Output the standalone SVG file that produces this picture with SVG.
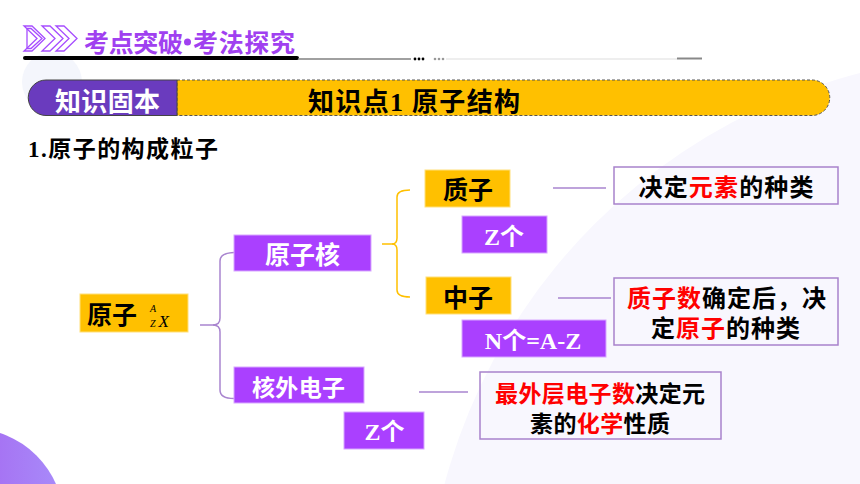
<svg xmlns="http://www.w3.org/2000/svg" width="860" height="484" viewBox="0 0 860 484">
<defs>
<linearGradient id="gCorner" x1="0" y1="0" x2="1" y2="0">
<stop offset="0" stop-color="#A247E6"/>
<stop offset="1" stop-color="#A88CFA"/>
</linearGradient>
<style>
.cjk{font-family:"Noto Sans CJK SC","Noto Sans",sans-serif;font-weight:bold;}
.ser{font-family:"Liberation Serif","Noto Sans CJK SC",serif;font-weight:bold;}
.ybox{fill:#FFC000;stroke:#FFE07A;stroke-width:1;}
.pbox{fill:#AA40FF;stroke:#D8A8FF;stroke-width:1;}
.abox{fill:none;stroke:#A882CC;stroke-width:1.5;}
.wt{fill:#FFFFFF;}
.bk{fill:#000000;}
.red{fill:#FF0000;}
.pl{fill:none;stroke:#A985CF;stroke-width:1.5;}
.yl{fill:none;stroke:#FFC000;stroke-width:1.5;}
.chev{fill:none;stroke:#A64DFF;stroke-width:1.3;}
</style>
</defs>

<!-- background -->
<rect x="0" y="0" width="860" height="484" fill="#FFFFFF"/>
<circle cx="1003" cy="633" r="578" fill="#F8F7FE"/>
<circle cx="52" cy="82" r="30" fill="#F4F6FC"/>
<circle cx="-30" cy="522" r="94" fill="url(#gCorner)"/>

<!-- header -->
<g id="header">
<polygon class="chev" points="24,26 32,26 45,38.5 32,51 24,51 37,38.5"/>
<polygon class="chev" points="27,28.5 31,28.5 42,38.5 31,48.5 27,48.5"/>
<polygon class="chev" points="42,26 50,26 63,38.5 50,51 42,51 55,38.5"/>
<polygon class="chev" points="56,26 64,26 77,38.5 64,51 56,51 69,38.5"/>
<text x="84" y="51.5" class="cjk" font-size="25" fill="#A040F0" textLength="99">考点突破</text>
<circle cx="187.5" cy="42" r="3.5" fill="#A040F0"/>
<text x="193" y="51.5" class="cjk" font-size="25" fill="#A040F0" textLength="102">考法探究</text>
<line x1="25" y1="58" x2="297" y2="58" stroke="#000" stroke-width="4" stroke-linecap="round"/>
<line x1="298" y1="59" x2="411" y2="59" stroke="#808080" stroke-width="1.5"/>
<circle cx="415" cy="59" r="1.4" fill="#000"/>
<circle cx="419" cy="59" r="1.4" fill="#000"/>
<circle cx="423" cy="59" r="1.4" fill="#000"/>
<circle cx="435" cy="59" r="1.3" fill="#999"/>
<circle cx="439" cy="59" r="1.3" fill="#999"/>
<circle cx="443" cy="59" r="1.3" fill="#999"/>
<line x1="446" y1="59" x2="677" y2="59" stroke="#DDDDDD" stroke-width="1"/>
<line x1="677" y1="58.5" x2="702" y2="58.5" stroke="#888888" stroke-width="2"/>
</g>

<!-- banner -->
<g id="banner">
<path d="M 177 80 L 812 80 A 17.75 17.75 0 0 1 812 115.5 L 177 115.5 Z" fill="#FFC000" stroke="#555" stroke-width="1" stroke-dasharray="3,2"/>
<path d="M 177 80 L 46 80 A 17.75 17.75 0 0 0 46 115.5 L 177 115.5 Z" fill="#6A3BBE" stroke="#444" stroke-width="1"/>
<text x="55" y="111" class="cjk wt" font-size="26" textLength="105">知识固本</text>
<text x="308" y="111" class="ser bk" font-size="26" textLength="212" xml:space="preserve">知识点1 原子结构</text>
</g>

<text id="subtitle" x="28" y="157" class="ser bk" font-size="23" textLength="190">1.原子的构成粒子</text>

<!-- connectors -->
<g id="connectors">
<path class="pl" stroke="#9D6CC9" d="M 200 325 L 213 325 Q 220 325 220 318 L 220 261 Q 220 253 234 252.5"/>
<path class="pl" stroke="#9D6CC9" d="M 213 325 Q 220 325 220 332 L 220 390 Q 220 398.5 234 398.5"/>
<path class="yl" d="M 382 244 L 392 244 Q 397 244 397 238 L 397 197 Q 397 190 410 190"/>
<path class="yl" d="M 392 244 Q 397 244 397 250 L 397 290 Q 397 297 410 297"/>
<line class="pl" x1="553" y1="188" x2="606" y2="188"/>
<line class="pl" x1="558" y1="298" x2="611" y2="298"/>
<line class="pl" x1="419" y1="392" x2="468" y2="392"/>
</g>

<!-- nodes -->
<g id="atom">
<rect class="ybox" x="80" y="294" width="108" height="38"/>
<text x="87" y="324" class="cjk bk" font-size="25">原子</text>
<text x="150" y="312" font-family="Liberation Serif,serif" font-style="italic" font-size="10" fill="#000">A</text>
<text x="150" y="327" font-family="Liberation Serif,serif" font-style="italic" font-size="10" fill="#000">Z</text>
<text x="158.5" y="327" font-family="Liberation Serif,serif" font-style="italic" font-size="17" fill="#000">X</text>
</g>

<g id="nucleus">
<rect class="pbox" x="234" y="235" width="137" height="36"/>
<text x="302.5" y="264" class="cjk wt" font-size="25" text-anchor="middle">原子核</text>
</g>

<g id="proton">
<rect class="ybox" x="425" y="170" width="85" height="37"/>
<text x="468" y="198.5" class="cjk bk" font-size="25" text-anchor="middle">质子</text>
</g>

<g id="proton-count">
<rect class="pbox" x="462" y="216" width="85" height="37"/>
<text x="504" y="245" class="ser wt" font-size="24" text-anchor="middle">Z个</text>
</g>

<g id="neutron">
<rect class="ybox" x="426" y="277" width="85" height="37"/>
<text x="468" y="306.5" class="cjk bk" font-size="25" text-anchor="middle">中子</text>
</g>

<g id="neutron-count">
<rect class="pbox" x="462" y="320" width="144" height="37"/>
<text x="533" y="349" class="ser wt" font-size="24" text-anchor="middle">N个=A-Z</text>
</g>

<g id="electron">
<rect class="pbox" x="234" y="367" width="130" height="36"/>
<text x="298.5" y="396" class="cjk wt" font-size="23" text-anchor="middle" textLength="93">核外电子</text>
</g>

<g id="electron-count">
<rect class="pbox" x="344" y="412" width="80" height="37"/>
<text x="384.5" y="440" class="ser wt" font-size="24" text-anchor="middle">Z个</text>
</g>

<g id="note-proton">
<rect class="abox" x="614" y="167" width="224" height="37"/>
<text x="726" y="196" class="cjk bk" font-size="24" text-anchor="middle" textLength="175">决定<tspan class="red">元素</tspan>的种类</text>
</g>

<g id="note-neutron">
<rect class="abox" x="614" y="278" width="224" height="67"/>
<text x="726.5" y="307" class="cjk bk" font-size="24" text-anchor="middle" textLength="199"><tspan class="red">质子数</tspan>确定后，决</text>
<text x="725.5" y="337" class="cjk bk" font-size="24" text-anchor="middle" textLength="149">定<tspan class="red">原子</tspan>的种类</text>
</g>

<g id="note-electron">
<rect class="abox" x="480" y="372" width="241" height="67"/>
<text x="600" y="402" class="cjk bk" font-size="23" text-anchor="middle" textLength="210"><tspan class="red">最外层电子数</tspan>决定元</text>
<text x="600" y="432" class="cjk bk" font-size="23" text-anchor="middle" textLength="140">素的<tspan class="red">化学</tspan>性质</text>
</g>
</svg>
